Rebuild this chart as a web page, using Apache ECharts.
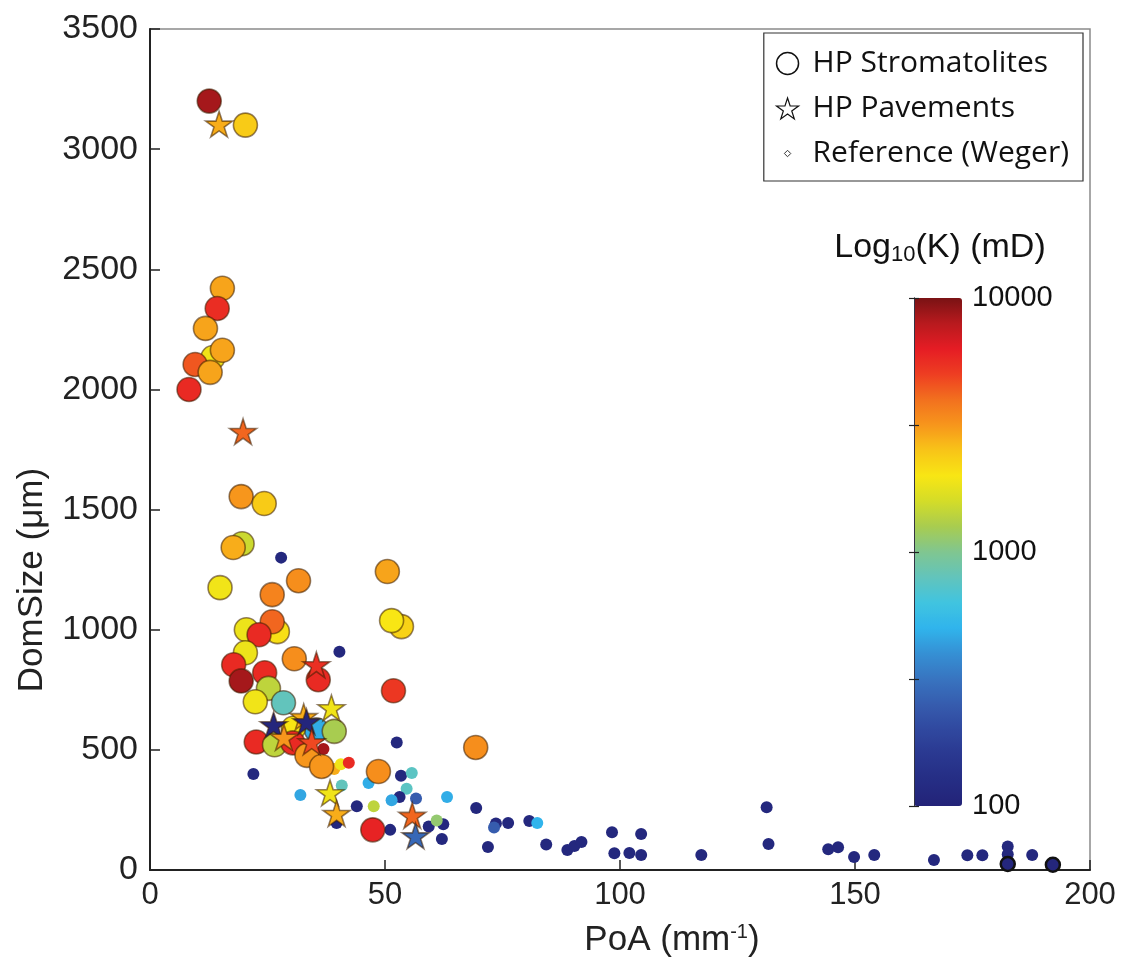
<!DOCTYPE html>
<html><head><meta charset="utf-8">
<script src="https://cdn.jsdelivr.net/npm/echarts@6/dist/echarts.min.js"></script>
<style>html,body{margin:0;padding:0;background:#fff}#c{width:1122px;height:962px}</style>
</head><body><div id="c"></div><script>
// [PoA (mm^-1), DomSize (um), log10 K (mD)]
const stromatolites = [
  [12.6,3200,3.93],[20.3,3100,3.38],[15.4,2421,3.47],[14.3,2337,3.75],[11.8,2254,3.47],
  [13.4,2133,3.28],[15.4,2163,3.47],[9.6,2104,3.65],[12.8,2071,3.47],[8.3,2000,3.76],
  [19.4,1554,3.50],[24.3,1525,3.38],[19.6,1358,3.18],[17.7,1342,3.45],[14.9,1175,3.28],
  [31.6,1204,3.52],[26.0,1146,3.55],[20.5,1000,3.27],[27.1,992,3.32],[26.0,1033,3.62],
  [23.2,979,3.76],[20.3,904,3.27],[30.7,879,3.52],[17.8,854,3.76],[19.4,787,3.93],
  [24.4,821,3.76],[35.8,792,3.76],[25.2,756,3.15],[22.4,700,3.28],[28.4,696,2.90],
  [35.4,583,2.68],[39.2,577,3.10],[30.5,590,3.30],[22.6,533,3.76],[26.5,521,3.15],
  [30.4,529,3.76],[33.4,477,3.50],[36.5,431,3.50],[48.6,410,3.52],[47.4,167,3.78],
  [50.5,1242,3.47],[53.5,1013,3.36],[51.4,1038,3.30],[51.8,746,3.72],[69.3,510,3.52]
];
const pavements = [
  [14.7,3104,3.45],[19.8,1825,3.62],[35.4,854,3.74],[38.6,675,3.28],[32.7,638,3.45],
  [26.3,604,2.03],[33.3,617,2.03],[28.5,552,3.50],[34.4,533,3.68],[38.3,321,3.28],
  [39.7,235,3.45],[55.8,227,3.62],[56.5,142,2.45]
];
const weger = [
  [27.9,1300,2.05],[40.3,908,2.05],[22.0,400,2.05],[36.9,504,3.93],[39.2,420,3.45],
  [40.6,440,3.28],[42.3,446,3.76],[32.0,312,2.66],[40.8,352,2.90],[46.5,362,2.68],
  [44.0,265,2.05],[47.6,265,3.15],[39.7,196,2.05],[52.5,531,2.05],[53.4,392,2.05],
  [55.7,404,2.88],[54.6,338,2.88],[53.1,304,2.05],[51.4,290,2.66],[56.6,298,2.40],
  [63.2,304,2.68],[51.1,167,2.05],[59.3,181,2.05],[62.4,190,2.05],[61.0,206,3.05],
  [62.1,129,2.05],[69.4,258,2.05],[73.6,194,2.05],[73.2,177,2.40],[76.2,196,2.05],
  [80.7,204,2.05],[82.4,196,2.70],[71.9,96,2.05],[84.3,106,2.05],[88.8,83,2.05],
  [90.3,100,2.05],[91.8,117,2.05],[98.3,157,2.05],[98.8,70,2.05],[102.0,71,2.05],
  [104.5,62,2.05],[104.5,150,2.05],[117.3,62,2.05],[131.2,261,2.05],[131.6,108,2.05],
  [144.3,86,2.05],[146.4,95,2.05],[149.8,54,2.05],[154.1,62,2.05],[166.8,42,2.05],
  [173.9,61,2.05],[177.1,61,2.05],[182.5,98,2.05],[182.5,66,2.05],[187.7,62,2.05]
];
const wegerOutlined = [[182.5,25,2.03],[192.1,22,2.03]];
const xTicks = [0,50,100,150,200];
const yTicks = [0,500,1000,1500,2000,2500,3000,3500];
const colorbarTicks = [100,1000,10000];
const legendNames = ['HP Stromatolites','HP Pavements','Reference (Weger)'];

const FONT = "'Liberation Sans', Arial, sans-serif";
const LFONT = "'Open Sans', Lato, sans-serif";
const STAR = 'path://M50,0L61.2,34.5L97.6,34.5L68.2,55.9L79.4,90.5L50,69.1L20.6,90.5L31.8,55.9L2.4,34.5L38.8,34.5Z';
const SMALL_DIAMOND = 'path://M0,0M24,24M12,8.5L15.5,12L12,15.5L8.5,12Z';
const cbMin = Math.log10(colorbarTicks[0]), cbMax = Math.log10(colorbarTicks[colorbarTicks.length-1]);
const jet = ['#232378','#252d84','#2a3890','#30489f','#365cae','#3874c0','#3590d4','#30b4ec','#40c4e0','#62c4bc',
             '#80c690','#a8cc50','#d4dc28','#f8e614','#f8c418','#f7961c','#f2701e','#ee3e22','#e51c24','#b81a1e','#7a1214'];
const markBorder = 'rgba(60,30,0,0.55)';

const chart = echarts.init(document.getElementById('c'), null, {renderer:'canvas'});
chart.setOption({
  animation:false,
  backgroundColor:'#fff',
  grid:[
    {left:150, right:32, top:29, bottom:92, show:true, borderColor:'#8a8a8a', borderWidth:1.5, backgroundColor:'transparent'},
    {left:914, top:298, width:48, height:508}
  ],
  xAxis:[
    {type:'value', min:xTicks[0], max:xTicks[xTicks.length-1], interval:50, gridIndex:0,
     axisLine:{show:true, onZero:false, lineStyle:{color:'#222', width:2}},
     axisTick:{show:true, inside:true, length:10, lineStyle:{color:'#222', width:1.5}},
     axisLabel:{fontSize:31, fontFamily:FONT, color:'#222', margin:10, formatter:v=>String(v)},
     splitLine:{show:false}},
    {type:'value', min:0, max:1, gridIndex:1, show:false}
  ],
  yAxis:[
    {type:'value', min:yTicks[0], max:yTicks[yTicks.length-1], interval:500, gridIndex:0,
     axisLine:{show:true, onZero:false, lineStyle:{color:'#222', width:2}},
     axisTick:{show:true, inside:true, length:10, lineStyle:{color:'#222', width:1.5}},
     axisLabel:{fontSize:34, fontFamily:FONT, color:'#222', margin:12, formatter:v=>String(v)},
     splitLine:{show:false}},
    {type:'value', min:cbMin, max:cbMax, interval:0.5, gridIndex:1, position:'right', zlevel:1, z:10,
     axisLine:{show:true, lineStyle:{color:'#334', width:1}},
     axisTick:{show:true, inside:true, length:5, lineStyle:{color:'#222', width:1.2}},
     axisLabel:{fontSize:29, fontFamily:FONT, color:'#111', margin:10,
       formatter:v=> Math.abs(v-Math.round(v))<1e-9 ? String(Math.round(Math.pow(10,v))) : ''},
     splitLine:{show:false}},
    {type:'value', min:cbMin, max:cbMax, interval:0.5, gridIndex:1, position:'left', zlevel:1, z:10,
     axisLine:{show:true, lineStyle:{color:'#334', width:1}},
     axisTick:{show:true, inside:true, length:5, lineStyle:{color:'#222', width:1.2}},
     axisLabel:{show:false}, splitLine:{show:false}}
  ],
  visualMap:{
    type:'continuous', min:cbMin, max:cbMax, dimension:2, seriesIndex:[0,1,2,3],
    calculable:false, orient:'vertical', left:914, top:298, itemWidth:48, itemHeight:508,
    padding:0, text:null, hoverLink:false, z:1,
    inRange:{color:jet}
  },
  legend:{
    orient:'vertical', right:39, top:33, padding:[15,14,12,12], itemGap:14,
    itemWidth:22, itemHeight:22,
    backgroundColor:'#fff', borderColor:'#333', borderWidth:1.2,
    selectedMode:false,
    formatter:n=>'{g|}{t|'+n+'}',
    textStyle:{fontSize:30, fontFamily:LFONT, color:'#111', lineHeight:31,
      rich:{g:{width:9}, t:{fontSize:30, fontFamily:LFONT, color:'#111', lineHeight:31}}},
    data:[
      {name:legendNames[0], icon:'circle', itemStyle:{color:'#fff', borderColor:'#111', borderWidth:1.5}},
      {name:legendNames[1], icon:STAR, itemStyle:{color:'#fff', borderColor:'#111', borderWidth:1.2}},
      {name:legendNames[2], icon:SMALL_DIAMOND, itemStyle:{color:'#fff', borderColor:'#333', borderWidth:1}}
    ]
  },
  graphic:[
    {type:'text', x:32, y:580, rotation:Math.PI/2, z:10,
     style:{text:'DomSize (μm)', font:'35px '+FONT, fill:'#222', align:'center', verticalAlign:'middle'}},
    {type:'text', x:672, y:940, z:10,
     style:{text:'{a|PoA (mm}{s|-1}{a|)}', align:'center', verticalAlign:'middle',
       rich:{a:{fontSize:35, fontFamily:FONT, fill:'#222', color:'#222'},
             s:{fontSize:20, fontFamily:FONT, fill:'#222', color:'#222', padding:[0,0,16,0]}}}},
    {type:'text', x:940, y:248, z:10,
     style:{text:'{a|Log}{s|10}{a|(K) (mD)}', align:'center', verticalAlign:'middle',
       rich:{a:{fontSize:34, fontFamily:FONT, fill:'#111', color:'#111'},
             s:{fontSize:22, fontFamily:FONT, fill:'#111', color:'#111', padding:[14,0,0,0]}}}}
  ],
  series:[
    {name:legendNames[2], type:'scatter', xAxisIndex:0, yAxisIndex:0, data:weger,
     symbol:'circle', symbolSize:12, z:2, itemStyle:{opacity:1, borderWidth:0}},
    {name:legendNames[2], type:'scatter', xAxisIndex:0, yAxisIndex:0, data:wegerOutlined,
     symbol:'circle', symbolSize:14, z:2, itemStyle:{opacity:1, borderColor:'#111', borderWidth:2.5}},
    {name:legendNames[0], type:'scatter', xAxisIndex:0, yAxisIndex:0, data:stromatolites,
     symbol:'circle', symbolSize:24, z:3, itemStyle:{opacity:1, borderColor:markBorder, borderWidth:1.6}},
    {name:legendNames[1], type:'scatter', xAxisIndex:0, yAxisIndex:0, data:pavements,
     symbol:STAR, symbolSize:27, symbolKeepAspect:true, z:4, itemStyle:{opacity:1, borderColor:markBorder, borderWidth:1.6}}
  ]
});
</script></body></html>
